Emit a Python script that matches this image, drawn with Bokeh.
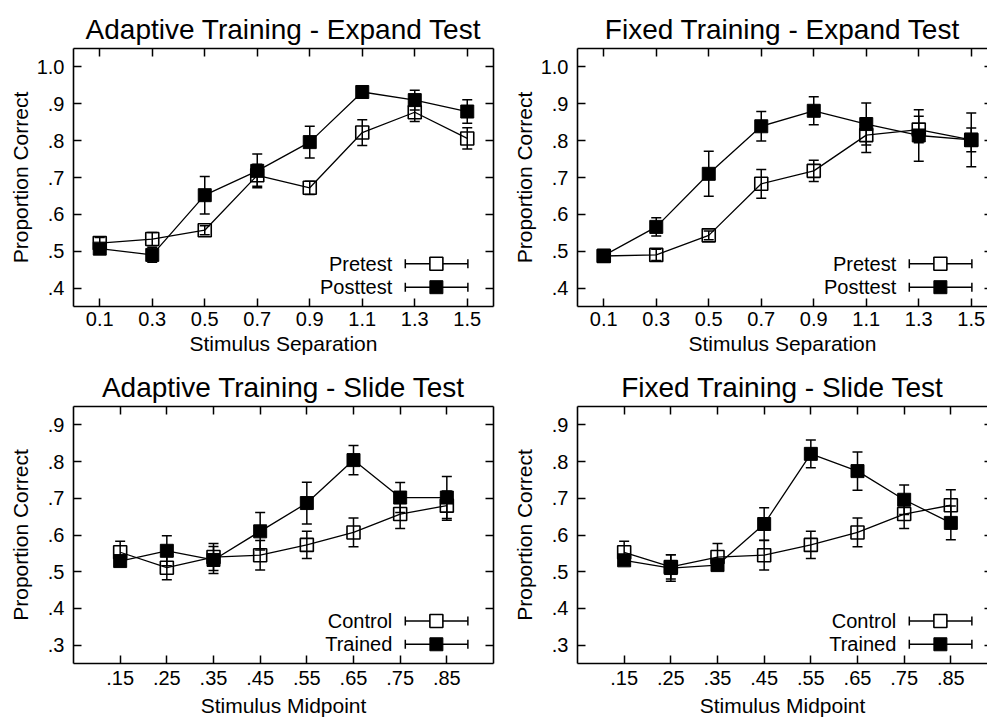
from bokeh.plotting import figure
from bokeh.layouts import column, row
from bokeh.models import (LinearAxis, FixedTicker, Whisker, TeeHead,
                          ColumnDataSource, Range1d)
from bokeh.core.properties import value
from bokeh.embed import file_html
from bokeh.resources import INLINE

# ---------------- data ----------------
separation = [0.1, 0.3, 0.5, 0.7, 0.9, 1.1, 1.3, 1.5]
separation_labels = ["0.1", "0.3", "0.5", "0.7", "0.9", "1.1", "1.3", "1.5"]
expand_yticks = [0.4, 0.5, 0.6, 0.7, 0.8, 0.9, 1.0]
expand_ylabels = [".4", ".5", ".6", ".7", ".8", ".9", "1.0"]

midpoint = [0.15, 0.25, 0.35, 0.45, 0.55, 0.65, 0.75, 0.85]
midpoint_labels = [".15", ".25", ".35", ".45", ".55", ".65", ".75", ".85"]
slide_yticks = [0.3, 0.4, 0.5, 0.6, 0.7, 0.8, 0.9]
slide_ylabels = [".3", ".4", ".5", ".6", ".7", ".8", ".9"]

adapt_expand_pre = [0.522, 0.533, 0.557, 0.706, 0.672, 0.822, 0.877, 0.806]
adapt_expand_pre_err = [0.015, 0.018, 0.012, 0.030, 0.018, 0.035, 0.025, 0.029]
adapt_expand_post = [0.507, 0.490, 0.652, 0.718, 0.796, 0.932, 0.910, 0.879]
adapt_expand_post_err = [0.010, 0.020, 0.051, 0.046, 0.043, 0.010, 0.027, 0.032]

fixed_expand_pre = [0.487, 0.490, 0.543, 0.683, 0.718, 0.815, 0.830, 0.802]
fixed_expand_pre_err = [0.010, 0.015, 0.012, 0.039, 0.029, 0.047, 0.036, 0.032]
fixed_expand_post = [0.488, 0.566, 0.710, 0.839, 0.881, 0.845, 0.814, 0.802]
fixed_expand_post_err = [0.008, 0.025, 0.061, 0.040, 0.038, 0.057, 0.070, 0.073]

adapt_slide_ctrl = [0.553, 0.511, 0.540, 0.545, 0.573, 0.607, 0.657, 0.680]
adapt_slide_ctrl_err = [0.030, 0.033, 0.037, 0.040, 0.037, 0.039, 0.039, 0.040]
adapt_slide_trained = [0.529, 0.557, 0.532, 0.610, 0.687, 0.804, 0.702, 0.702]
adapt_slide_trained_err = [0.012, 0.041, 0.037, 0.051, 0.057, 0.040, 0.041, 0.057]

fixed_slide_ctrl = [0.553, 0.513, 0.540, 0.545, 0.573, 0.607, 0.657, 0.681]
fixed_slide_ctrl_err = [0.030, 0.033, 0.037, 0.040, 0.037, 0.039, 0.039, 0.042]
fixed_slide_trained = [0.531, 0.510, 0.518, 0.630, 0.821, 0.774, 0.696, 0.633]
fixed_slide_trained_err = [0.012, 0.036, 0.010, 0.044, 0.038, 0.052, 0.040, 0.046]

expand_series_names = ["Pretest", "Posttest"]
slide_series_names = ["Control", "Trained"]

# ---------------- layout / style ----------------
FONT = "Liberation Sans"
FULL_FW = 420          # nominal frame width
RIGHT_FW = 410         # right-hand panels are clipped by the page edge
EXPAND_XR = (0.0, 1.6)
EXPAND_YR = (0.35, 1.05)
SLIDE_XR = (0.05, 0.95)
SLIDE_YR = (0.25, 0.95)
# legend geometry as fractions of the nominal frame
LEG_LABEL_FX = 0.759
LEG_LINE_FX = (0.790, 0.939)
LEG_MARK_FX = 0.864
LEG_ROW_FY = (0.1655, 0.0748)


def style_axis(ax, ticks, labels, show_labels=True, line=True, tick_in=8):
    ax.ticker = FixedTicker(ticks=ticks)
    ax.minor_tick_line_color = None
    ax.major_tick_in = tick_in
    ax.major_tick_out = 0
    ax.major_tick_line_width = 1.5
    ax.major_tick_line_color = "black"
    ax.axis_line_width = 1.6
    ax.axis_line_color = "black" if line else None
    if show_labels:
        ax.major_label_overrides = {t: l for t, l in zip(ticks, labels)}
        ax.major_label_text_font = FONT
        ax.major_label_text_font_size = "20px"
        ax.major_label_text_color = "black"
    else:
        ax.major_label_text_color = None
        ax.major_label_text_font_size = "1px"
        ax.major_label_standoff = 0


def make_panel(title, xs, xlabels, yticks, ylabels, xr, yr, xlabel,
               series, names, right_side, top_row):
    fw = RIGHT_FW if right_side else FULL_FW
    x0, x1 = xr
    x_end = x0 + (x1 - x0) * fw / FULL_FW
    p = figure(frame_width=fw, frame_height=258 if top_row else 257,
               x_range=Range1d(x0, x_end), y_range=Range1d(*yr),
               output_backend="svg", toolbar_location=None,
               min_border_left=72 if right_side else 73,
               min_border_right=0 if right_side else 12,
               min_border_top=48,
               min_border_bottom=52 if top_row else 53,
               background_fill_color="white", border_fill_color="white")
    p.outline_line_color = None
    p.grid.visible = False

    p.title.text = title
    p.title.text_font = FONT
    p.title.text_font_size = "28px"
    p.title.text_font_style = "normal"
    p.title.text_color = "black"
    p.title.align = "center"
    p.title.standoff = 8

    xa = p.xaxis[0]
    style_axis(xa, xs, xlabels)
    xa.major_label_standoff = 5 if top_row else 7
    xa.axis_label = xlabel
    xa.axis_label_text_font = FONT
    xa.axis_label_text_font_size = "21px"
    xa.axis_label_text_font_style = "normal"
    xa.axis_label_text_color = "black"
    xa.axis_label_standoff = 3 if top_row else 6

    ya = p.yaxis[0]
    style_axis(ya, yticks, ylabels)
    ya.major_label_standoff = 9
    ya.axis_label = "Proportion Correct"
    ya.axis_label_text_font = FONT
    ya.axis_label_text_font_size = "21px"
    ya.axis_label_text_font_style = "normal"
    ya.axis_label_text_color = "black"
    ya.axis_label_standoff = 2 if top_row else 13

    top = LinearAxis()
    style_axis(top, xs, xlabels, show_labels=False)
    p.add_layout(top, "above")
    right = LinearAxis()
    if right_side:
        style_axis(right, yticks, ylabels, show_labels=False, line=False, tick_in=3)
    else:
        style_axis(right, yticks, ylabels, show_labels=False)
    p.add_layout(right, "right")

    for (vals, errs), filled in zip(series, [False, True]):
        src = ColumnDataSource(dict(x=xs, y=vals,
                                    lo=[v - e for v, e in zip(vals, errs)],
                                    hi=[v + e for v, e in zip(vals, errs)]))
        p.line("x", "y", source=src, line_color="black", line_width=1.3)
        p.add_layout(Whisker(base="x", upper="hi", lower="lo", source=src,
                             line_color="black", line_width=1.5,
                             upper_head=TeeHead(size=10, line_width=1.5),
                             lower_head=TeeHead(size=10, line_width=1.5)))
        if filled:
            p.scatter("x", "y", source=src, marker="square", size=13,
                      fill_color="black", line_color="black", line_width=1)
        else:
            p.scatter("x", "y", source=src, marker="square", size=13,
                      fill_color=None, line_color="black", line_width=1.6)

    # legend (gnuplot style: label, then sample with error bar)
    def fx(f):
        return x0 + (x1 - x0) * f

    def fy(f):
        return yr[0] + (yr[1] - yr[0]) * f

    for name, fyr, filled in zip(names, LEG_ROW_FY, [False, True]):
        yy = fy(fyr)
        p.text(x=[fx(LEG_LABEL_FX)], y=[yy], text=[name], text_align="right",
               text_baseline="middle", text_font=value(FONT),
               text_font_size="20px", text_color="black")
        p.segment(x0=[fx(LEG_LINE_FX[0])], y0=[yy], x1=[fx(LEG_LINE_FX[1])],
                  y1=[yy], line_color="black", line_width=1.5)
        p.scatter(x=[fx(LEG_LINE_FX[0]), fx(LEG_LINE_FX[1])], y=[yy, yy],
                  marker="dash", angle=1.5708, size=9, line_color="black",
                  line_width=1.5)
        if filled:
            p.scatter(x=[fx(LEG_MARK_FX)], y=[yy], marker="square", size=13,
                      fill_color="black", line_color="black", line_width=1)
        else:
            p.scatter(x=[fx(LEG_MARK_FX)], y=[yy], marker="square", size=13,
                      fill_color="white", line_color="black", line_width=1.6)
    return p


p1 = make_panel("Adaptive Training - Expand Test", separation, separation_labels,
                expand_yticks, expand_ylabels, EXPAND_XR, EXPAND_YR,
                "Stimulus Separation",
                [(adapt_expand_pre, adapt_expand_pre_err),
                 (adapt_expand_post, adapt_expand_post_err)],
                expand_series_names, False, True)
p2 = make_panel("Fixed Training - Expand Test", separation, separation_labels,
                expand_yticks, expand_ylabels, EXPAND_XR, EXPAND_YR,
                "Stimulus Separation",
                [(fixed_expand_pre, fixed_expand_pre_err),
                 (fixed_expand_post, fixed_expand_post_err)],
                expand_series_names, True, True)
p3 = make_panel("Adaptive Training - Slide Test", midpoint, midpoint_labels,
                slide_yticks, slide_ylabels, SLIDE_XR, SLIDE_YR,
                "Stimulus Midpoint",
                [(adapt_slide_ctrl, adapt_slide_ctrl_err),
                 (adapt_slide_trained, adapt_slide_trained_err)],
                slide_series_names, False, False)
p4 = make_panel("Fixed Training - Slide Test", midpoint, midpoint_labels,
                slide_yticks, slide_ylabels, SLIDE_XR, SLIDE_YR,
                "Stimulus Midpoint",
                [(fixed_slide_ctrl, fixed_slide_ctrl_err),
                 (fixed_slide_trained, fixed_slide_trained_err)],
                slide_series_names, True, False)

layout = column(row(p1, p2), row(p3, p4))
open("out.html", "w").write(file_html(layout, INLINE))
